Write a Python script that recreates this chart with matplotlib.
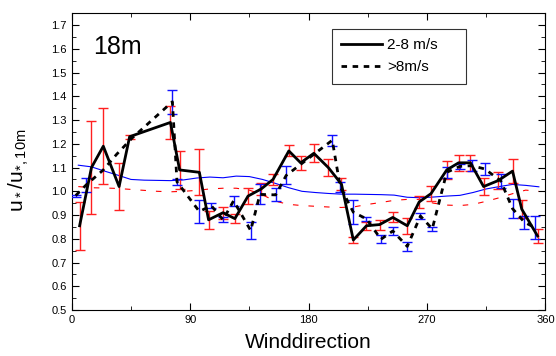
import numpy as np
import matplotlib.pyplot as plt
from matplotlib.ticker import MultipleLocator

plt.rcParams['font.family'] = ['Liberation Sans', 'DejaVu Sans']
plt.rcParams['mathtext.default'] = 'regular'

# 2-8 m/s bin averages (solid) with red error bars
low_dir = [6, 15, 24, 36, 44, 75, 82, 97, 104, 115, 124, 134, 144, 153, 165, 174, 184,
           195, 205, 214, 224, 234, 244, 255, 264, 273, 285, 294, 303, 313, 324, 335, 342, 354]
low_val = [0.855, 1.10, 1.19, 1.02, 1.23, 1.29, 1.09, 1.08, 0.88, 0.91, 0.885, 0.98, 1.01,
           1.05, 1.17, 1.12, 1.16, 1.10, 1.03, 0.795, 0.855, 0.86, 0.89, 0.855, 0.955, 0.99,
           1.09, 1.12, 1.12, 1.02, 1.045, 1.085, 0.925, 0.812]
low_err = [0.10, 0.195, 0.16, 0.10, 0.008, 0.07, 0.08, 0.097, 0.037, 0.025, 0.02, 0.032,
           0.025, 0.022, 0.023, 0.03, 0.038, 0.036, 0.025, 0.014, 0.016, 0.021, 0.021, 0.034,
           0.027, 0.032, 0.037, 0.034, 0.034, 0.035, 0.037, 0.052, 0.037, 0.03]

# >8 m/s bin averages (dashed) with blue error bars
high_dir = [3, 11, 24, 34, 46, 76.5, 80, 97, 106, 115, 123, 136, 143, 155, 163, 198, 204,
            214, 224, 235, 244, 255, 265, 274, 285, 295, 304, 314, 326, 335, 344, 352]
high_val = [0.982, 1.027, 1.09, 1.155, 1.225, 1.377, 1.04, 0.915, 0.94, 0.88, 0.96, 0.835,
            0.987, 0.985, 1.067, 1.215, 1.02, 0.912, 0.884, 0.798, 0.833, 0.768, 0.896, 0.842,
            1.08, 1.105, 1.108, 1.094, 1.044, 0.927, 0.87, 0.847]
high_err = [0.004, 0.03, 0, 0, 0, 0.05, 0.012, 0.048, 0.01, 0.01, 0.022, 0.035, 0.042, 0.027,
            0.038, 0.023, 0.021, 0.051, 0.009, 0.017, 0.018, 0.019, 0.014, 0.009, 0.023, 0.012,
            0.024, 0.026, 0.029, 0.039, 0.027, 0.049]

# thin reference curves
ref_dir = [5, 15, 25, 35, 45, 55, 65, 75, 85, 95, 105, 115, 125, 135, 145, 155, 165, 175,
           185, 195, 205, 215, 225, 235, 245, 255, 265, 275, 285, 295, 305, 315, 325, 335, 345, 355]
ref_blue = [1.11, 1.103, 1.085, 1.068, 1.05, 1.047, 1.046, 1.045, 1.048, 1.056, 1.06, 1.057,
            1.064, 1.062, 1.05, 1.033, 1.015, 1.0, 0.995, 0.991, 0.988, 0.988, 0.987, 0.986,
            0.984, 0.975, 0.973, 0.976, 0.98, 0.983, 0.995, 1.01, 1.02, 1.029, 1.025, 1.019]
ref_red = [1.02, 1.015, 1.014, 1.012, 1.008, 1.004, 1.0, 0.998, 1.0, 1.004, 1.01, 1.013,
           1.013, 1.005, 0.985, 0.958, 0.945, 0.94, 0.937, 0.934, 0.932, 0.935, 0.945, 0.953,
           0.962, 0.966, 0.966, 0.95, 0.942, 0.94, 0.945, 0.958, 0.973, 0.99, 1.005, 1.0]

fig = plt.figure(figsize=(5.56, 3.56), dpi=100)
ax = fig.add_axes([0.129, 0.129, 0.852, 0.834])

ax.plot(ref_dir, ref_blue, color='blue', lw=0.8, zorder=2)
ax.plot(ref_dir, ref_red, color='red', lw=0.8, ls=(0, (5, 9)), zorder=2)

ax.errorbar(low_dir, low_val, yerr=low_err, fmt='none', ecolor='#ff2020',
            elinewidth=1, capsize=3.6, capthick=1, zorder=3)

hd = np.array(high_dir)
hv = np.array(high_val)
he = np.array(high_err)
m = he > 0
ax.errorbar(hd[m], hv[m], yerr=he[m], fmt='none', ecolor='#1010ff',
            elinewidth=1, capsize=3.6, capthick=1, zorder=3)

ax.plot(low_dir, low_val, color='black', lw=2, zorder=5, label='2-8 m/s')
ax.plot(high_dir, high_val, color='black', lw=2, ls=(0, (2, 2)), zorder=5, label='>8m/s')

ax.set_xlim(0, 360)
ax.set_ylim(0.5, 1.75)
ax.set_xticks([0, 90, 180, 270, 360])
ax.xaxis.set_minor_locator(MultipleLocator(45))
ax.set_yticks(np.round(np.arange(0.5, 1.71, 0.1), 1))
ax.yaxis.set_minor_locator(MultipleLocator(0.05))
ax.tick_params(which='both', direction='in', top=True, right=True, labelsize=8)
ax.tick_params(which='major', length=5)
ax.tick_params(which='minor', length=3)

ax.text(0.045, 0.886, '18m', transform=ax.transAxes, fontsize=18, va='center')

ax.set_xlabel('Winddirection', fontsize=15, labelpad=6)
ax.set_ylabel('u$_*$/u$_{*,10m}$', fontsize=15)
ax.yaxis.set_label_coords(-0.085, 0.47)

leg = ax.legend(loc='upper left', bbox_to_anchor=(0.549, 0.772, 0.283, 0.175),
                mode='expand', borderaxespad=0, fontsize=11, frameon=True,
                fancybox=False, edgecolor='black', handlelength=2.7, handletextpad=0.3,
                borderpad=0.6, labelspacing=0.55)
leg.get_frame().set_linewidth(0.8)

fig.savefig('out.png', dpi=100)
